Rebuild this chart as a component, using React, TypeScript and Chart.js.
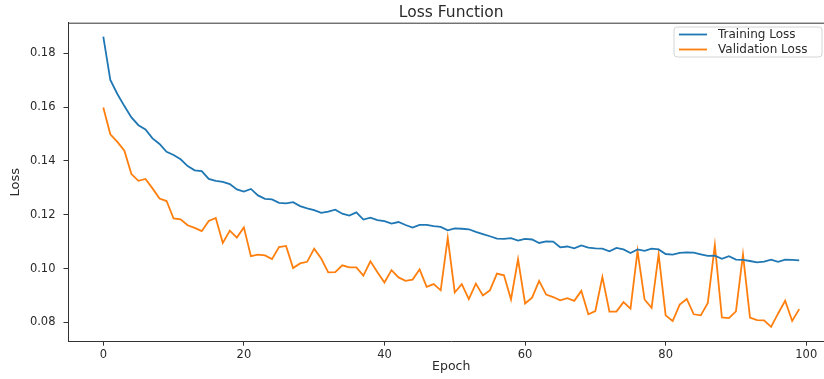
import React, { useEffect, useRef } from "react";
import { Chart, registerables } from "chart.js";

Chart.register(...registerables);

const chartTitle = "Loss Function";
const xAxisTitle = "Epoch";
const yAxisTitle = "Loss";
const seriesNames = ["Training Loss", "Validation Loss"];
const seriesColors = ["#1f77b4", "#ff7f0e"];
const xTicks = [0, 20, 40, 60, 80, 100];
const yTicks = [0.08, 0.1, 0.12, 0.14, 0.16, 0.18];

const trainLoss = [
  0.1862, 0.1701, 0.1649, 0.1604, 0.1562, 0.1533, 0.1517, 0.1484, 0.1463, 0.1434,
  0.1422, 0.1406, 0.1381, 0.1365, 0.1362, 0.1333, 0.1326, 0.1322, 0.1314, 0.1294,
  0.1286, 0.1296, 0.1272, 0.1259, 0.1257, 0.1244, 0.1242, 0.1247, 0.1232, 0.1224,
  0.1217, 0.1207, 0.1212, 0.1219, 0.1204, 0.1197, 0.1209, 0.1182, 0.1189, 0.1180,
  0.1176, 0.1167, 0.1173, 0.1162, 0.1152, 0.1162, 0.1162, 0.1158, 0.1155, 0.1142,
  0.1149, 0.1148, 0.1146, 0.1136, 0.1128, 0.1120, 0.1111, 0.1110, 0.1113, 0.1104,
  0.1110, 0.1108, 0.1095, 0.1101, 0.1100, 0.1079, 0.1082, 0.1075, 0.1086, 0.1078,
  0.1075, 0.1074, 0.1064, 0.1077, 0.1071, 0.1058, 0.1071, 0.1066, 0.1074, 0.1071,
  0.1054, 0.1052, 0.1058, 0.1060, 0.1059, 0.1053, 0.1047, 0.1048, 0.1036, 0.1046,
  0.1033, 0.1032, 0.1028, 0.1023, 0.1026, 0.1033, 0.1025, 0.1033, 0.1032, 0.1030,
];

const valLoss = [
  0.1599, 0.1499, 0.1471, 0.1438, 0.1351, 0.1326, 0.1333, 0.1298, 0.1260, 0.1251,
  0.1186, 0.1183, 0.1161, 0.1151, 0.1139, 0.1177, 0.1188, 0.1095, 0.1141, 0.1115,
  0.1153, 0.1046, 0.1052, 0.1049, 0.1035, 0.1080, 0.1084, 0.1002, 0.1019, 0.1025,
  0.1074, 0.1037, 0.0986, 0.0987, 0.1012, 0.1004, 0.1004, 0.0974, 0.1027, 0.0986,
  0.0948, 0.0994, 0.0967, 0.0954, 0.0959, 0.0997, 0.0932, 0.0942, 0.0919, 0.1114,
  0.0911, 0.0942, 0.0886, 0.0944, 0.0900, 0.0919, 0.0981, 0.0975, 0.0885, 0.1035,
  0.0870, 0.0892, 0.0954, 0.0903, 0.0894, 0.0882, 0.0890, 0.0880, 0.0917, 0.0830,
  0.0842, 0.0969, 0.0840, 0.0840, 0.0875, 0.0851, 0.1065, 0.0885, 0.0854, 0.1053,
  0.0826, 0.0805, 0.0866, 0.0887, 0.0830, 0.0826, 0.0872, 0.1087, 0.0818, 0.0816,
  0.0841, 0.1052, 0.0818, 0.0808, 0.0807, 0.0783, 0.0833, 0.0880, 0.0805, 0.0849,
];

const FONT = "'DejaVu Sans', sans-serif";
const TEXT = "#2a2a2a";
const SPINE = "#333333";
const CANVAS_W = 834;
const CANVAS_H = 379;

const decorPlugin = {
  id: "decor",
  afterDraw(chart: any) {
    const ctx = chart.ctx;
    const area = chart.chartArea;
    ctx.save();
    // top and right spines
    ctx.strokeStyle = SPINE;
    ctx.lineWidth = 1;
    ctx.beginPath();
    ctx.moveTo(area.left, area.top + 0.5);
    ctx.lineTo(area.right - 0.5, area.top + 0.5);
    ctx.lineTo(area.right - 0.5, area.bottom);
    ctx.stroke();
    // title (centred on the axes)
    ctx.fillStyle = TEXT;
    ctx.font = `15.5px ${FONT}`;
    ctx.textAlign = "center";
    ctx.textBaseline = "middle";
    ctx.fillText(chartTitle, (area.left + area.right) / 2, 12.5);
    // legend
    const bx = 674, by = 27, bw = 148, bh = 30, r = 3;
    ctx.beginPath();
    ctx.moveTo(bx + r, by);
    ctx.lineTo(bx + bw - r, by);
    ctx.quadraticCurveTo(bx + bw, by, bx + bw, by + r);
    ctx.lineTo(bx + bw, by + bh - r);
    ctx.quadraticCurveTo(bx + bw, by + bh, bx + bw - r, by + bh);
    ctx.lineTo(bx + r, by + bh);
    ctx.quadraticCurveTo(bx, by + bh, bx, by + bh - r);
    ctx.lineTo(bx, by + r);
    ctx.quadraticCurveTo(bx, by, bx + r, by);
    ctx.closePath();
    ctx.fillStyle = "rgba(255,255,255,0.8)";
    ctx.fill();
    ctx.strokeStyle = "#d4d4d4";
    ctx.lineWidth = 1;
    ctx.stroke();
    const rows = [34.5, 49.5];
    seriesNames.forEach((name, i) => {
      ctx.strokeStyle = seriesColors[i];
      ctx.lineWidth = 1.8;
      ctx.beginPath();
      ctx.moveTo(679, rows[i]);
      ctx.lineTo(707, rows[i]);
      ctx.stroke();
      ctx.fillStyle = TEXT;
      ctx.font = `12px ${FONT}`;
      ctx.textAlign = "left";
      ctx.textBaseline = "middle";
      ctx.fillText(name, 718, rows[i] + 0.5);
    });
    ctx.restore();
  },
};

export default function App() {
  const canvasRef = useRef<HTMLCanvasElement | null>(null);

  useEffect(() => {
    document.body.style.margin = "0";
    document.body.style.overflow = "hidden";
    const canvas = canvasRef.current;
    if (!canvas) return;
    const chart = new Chart(canvas, {
      type: "line",
      data: {
        datasets: [
          {
            label: seriesNames[0],
            data: trainLoss.map((v, i) => ({ x: i, y: v })),
            borderColor: seriesColors[0],
            backgroundColor: seriesColors[0],
            borderWidth: 1.8,
            pointRadius: 0,
            tension: 0,
            fill: false,
          },
          {
            label: seriesNames[1],
            data: valLoss.map((v, i) => ({ x: i, y: v })),
            borderColor: seriesColors[1],
            backgroundColor: seriesColors[1],
            borderWidth: 1.8,
            pointRadius: 0,
            tension: 0,
            fill: false,
          },
        ],
      },
      options: {
        responsive: false,
        animation: false,
        devicePixelRatio: 1,
        layout: { padding: { top: 22.7, left: 0, right: 0, bottom: 0 } },
        plugins: {
          legend: { display: false },
          title: { display: false },
          tooltip: { enabled: false },
        },
        scales: {
          x: {
            type: "linear",
            min: -4.95,
            max: 103.95,
            afterBuildTicks: (scale: any) => {
              scale.ticks = xTicks.map((v) => ({ value: v }));
            },
            afterFit: (scale: any) => {
              scale.height = CANVAS_H - 341.7;
            },
            grid: {
              display: true,
              drawOnChartArea: false,
              drawTicks: true,
              tickLength: 4,
              tickColor: SPINE,
              tickWidth: 1,
            },
            border: { display: true, color: SPINE, width: 1 },
            ticks: {
              color: TEXT,
              font: { family: FONT, size: 11.5 },
              padding: 2,
              maxRotation: 0,
              autoSkip: false,
              callback: (v: any) => String(v),
            },
            title: {
              display: true,
              text: xAxisTitle,
              color: TEXT,
              font: { family: FONT, size: 12.5 },
              padding: { top: 0, bottom: 5 },
            },
          },
          y: {
            type: "linear",
            min: 0.0728,
            max: 0.1914,
            afterBuildTicks: (scale: any) => {
              scale.ticks = yTicks.map((v) => ({ value: v }));
            },
            afterFit: (scale: any) => {
              scale.width = 68.5;
            },
            grid: {
              display: true,
              drawOnChartArea: false,
              drawTicks: true,
              tickLength: 5,
              tickColor: SPINE,
              tickWidth: 1,
            },
            border: { display: true, color: SPINE, width: 1 },
            ticks: {
              color: TEXT,
              font: { family: FONT, size: 11.5 },
              padding: 8,
              autoSkip: false,
              callback: (v: any) => Number(v).toFixed(2),
            },
            title: {
              display: true,
              text: yAxisTitle,
              color: TEXT,
              font: { family: FONT, size: 13 },
              padding: { top: 8, bottom: 0 },
            },
          },
        },
      },
      plugins: [decorPlugin],
    });
    return () => chart.destroy();
  }, []);

  return (
    <div style={{ width: 824, height: 379, overflow: "hidden", background: "#fff" }}>
      <canvas
        ref={canvasRef}
        width={CANVAS_W}
        height={CANVAS_H}
        style={{ display: "block", width: CANVAS_W, height: CANVAS_H }}
      />
    </div>
  );
}
